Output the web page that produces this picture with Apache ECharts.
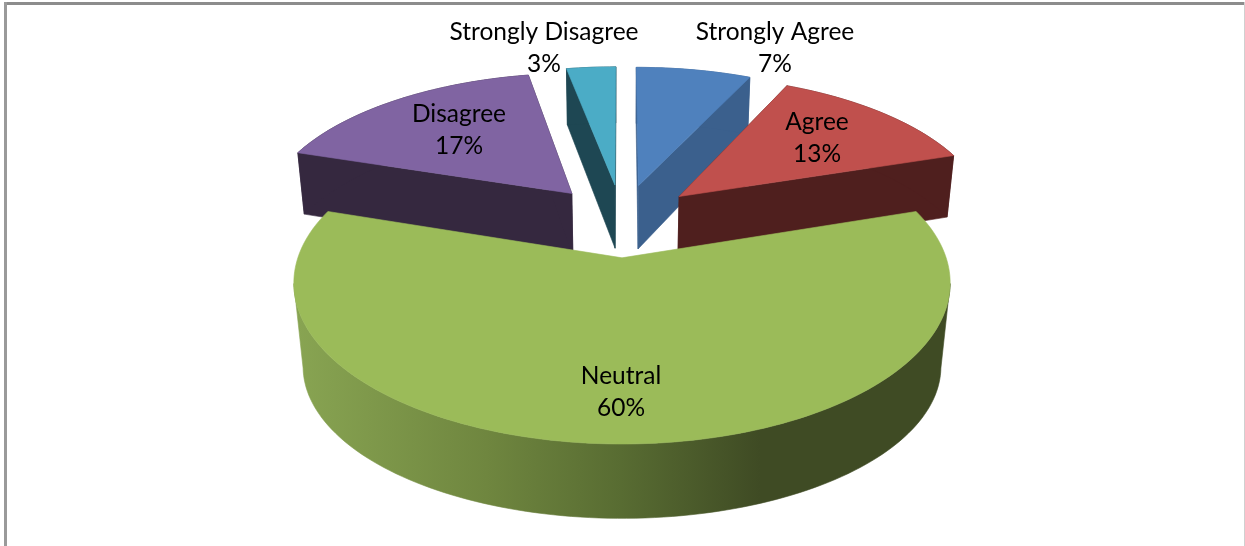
<!DOCTYPE html>
<html>
<head>
<meta charset="utf-8">
<style>html,body{margin:0;padding:0;background:#fff}#c{width:1245px;height:546px}</style>
<script src="https://cdn.jsdelivr.net/npm/echarts@6/dist/echarts.min.js"></script>
</head>
<body>
<div id="c"></div>
<script>
// Data
const categories = ['Strongly Agree', 'Agree', 'Neutral', 'Disagree', 'Strongly Disagree'];
const percents = [7, 13, 60, 17, 3];

// Styles
const topColors = ['#4f81bd', '#c0504d', '#9bbb59', '#8064a2', '#4bacc6'];
const wallColors = ['#3b608d', '#4f1f1e', null, '#35283f', '#1e4753'];
const drawRank = [1, 3, 4, 2, 0];
const labelAnchors = [[775, 48], [817, 138], [621, 392], [459, 130], [544, 48]];

// Projection of the pie plane on to the page
const top3d = { c: 220, A: 312, B: 145.6, k: 0.15 };
const bot3d = { c: 285, A: 305, B: 153, k: 0.144 };
const botFront3d = { c: 308, A: 304, B: 138, k: 0.144 };
const CX = 622, EXPLODE = 0.25;
function project(p, X, Y) {
  const s = 1 / (1 + p.k * Y);
  return [CX + p.A * X * s, p.c - p.B * Y * s];
}

const neutralRim = new echarts.graphic.LinearGradient(297, 0, 760, 0, [
  { offset: 0, color: '#88a452' },
  { offset: 0.41, color: '#6f863f' },
  { offset: 0.70, color: '#586c32' },
  { offset: 1, color: '#3f4b24' }
], true);

const total = percents.reduce((a, b) => a + b, 0);

// Front part of an arc: from its rightmost point to its leftmost point
function frontPart(pts) {
  let r = 0, l = 0;
  pts.forEach((p, q) => { if (p[0] > pts[r][0]) r = q; if (p[0] < pts[l][0]) l = q; });
  const a = Math.min(r, l), b = Math.max(r, l);
  const part = pts.slice(a, b + 1);
  return r < l ? part : part.reverse();
}

function renderItem(params, api) {
  const i = api.value(0);
  let acc = 0;
  for (let j = 0; j < i; j++) acc += percents[j];
  const t0 = acc / total * 2 * Math.PI;
  const t1 = (acc + api.value(1)) / total * 2 * Math.PI;
  const m = (t0 + t1) / 2;
  const ox = EXPLODE * Math.sin(m), oy = EXPLODE * Math.cos(m);
  const n = Math.max(8, Math.round((t1 - t0) * 40));
  const arc = p => {
    const pts = [];
    for (let q = 0; q <= n; q++) {
      const t = t0 + (t1 - t0) * q / n;
      pts.push(project(p, ox + Math.sin(t), oy + Math.cos(t)));
    }
    return pts;
  };
  const wall = wallColors[i];
  const base = wall ? bot3d : botFront3d;
  const topArc = arc(top3d), botArc = arc(base);
  const topApex = project(top3d, ox, oy), botApex = project(base, ox, oy);
  const z = drawRank[i] * 10;
  const poly = (points, fill, zz, lw) => ({
    type: 'polygon', shape: { points }, z2: zz, silent: true,
    style: { fill, stroke: fill, lineWidth: lw }
  });
  const children = [];
  if (wall) {
    children.push(poly([topApex, topArc[0], botArc[0], botApex], wall, z, 0.6));
    children.push(poly([topApex, topArc[n], botArc[n], botApex], wall, z, 0.6));
  }
  children.push(poly(frontPart(topArc).concat(frontPart(botArc).reverse()), wall || neutralRim, z + 1, 0.6));
  children.push(poly([topApex].concat(topArc), topColors[i], z + 2, 0.6));
  children.push({
    type: 'text', z2: 100, silent: true,
    style: {
      text: categories[i] + '\n' + api.value(1) + '%',
      x: labelAnchors[i][0], y: labelAnchors[i][1],
      align: 'center', verticalAlign: 'middle',
      fontFamily: 'Lato', fontSize: 24.5, lineHeight: 32, fill: '#000'
    }
  });
  return { type: 'group', children };
}

const chart = echarts.init(document.getElementById('c'), null, { renderer: 'canvas' });
chart.setOption({
  animation: false,
  backgroundColor: '#ffffff',
  graphic: [
    { type: 'rect', shape: { x: 4, y: 2, width: 1241, height: 3 }, style: { fill: '#8c8c8c' }, silent: true },
    { type: 'rect', shape: { x: 4, y: 2, width: 3, height: 544 }, style: { fill: '#9a9a9a' }, silent: true },
    { type: 'rect', shape: { x: 1244, y: 2, width: 1, height: 544 }, style: { fill: '#d0d0d0' }, silent: true }
  ],
  series: [{
    type: 'custom',
    coordinateSystem: 'none',
    renderItem,
    data: percents.map((v, i) => [i, v])
  }]
});
</script>
</body>
</html>
